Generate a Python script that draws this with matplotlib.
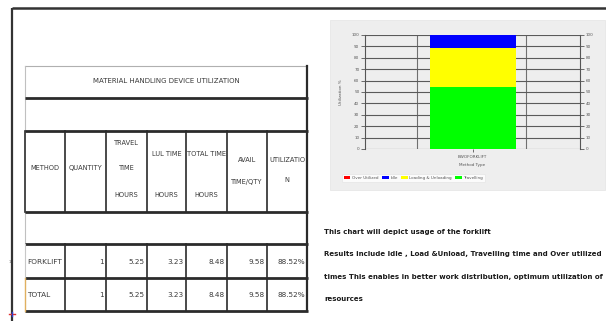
import matplotlib
matplotlib.use("Agg")
import matplotlib.pyplot as plt
from matplotlib.patches import Rectangle

# ---------------- data ----------------
table_title = "MATERIAL HANDLING DEVICE UTILIZATION"
header_lines = [["METHOD"], ["QUANTITY"], ["TRAVEL", "TIME", "HOURS"],
                ["LUL TIME", "HOURS"], ["TOTAL TIME", "HOURS"],
                ["AVAIL", "TIME/QTY"], ["UTILIZATIO", "N"]]
row_names = ["FORKLIFT", "TOTAL"]
quantity = ["1", "1"]
travel_time = ["5.25", "5.25"]
lul_time = ["3.23", "3.23"]
total_time = ["8.48", "8.48"]
avail_time = ["9.58", "9.58"]
utilization = ["88.52%", "88.52%"]

categories = ["BWOFORKLIFT"]
over_utilized = [0.0]
idle = [11.48]
loading_unloading = [33.72]
travelling = [54.80]
y_ticks = list(range(0, 101, 10))

paragraph = ["This chart will depict usage of the forklift",
             "Results include Idle , Load &Unload, Travelling time and Over utilized",
             "times This enables in better work distribution, optimum utilization of",
             "resources"]

W, H = 606, 321
fig = plt.figure(figsize=(W / 100, H / 100), dpi=100)
fig.patch.set_facecolor("white")

ax0 = fig.add_axes([0, 0, 1, 1])
ax0.set_xlim(0, W)
ax0.set_ylim(H, 0)
ax0.axis("off")

FAM = ["DejaVu Sans"]
tcol = "#3a3a3a"
dark = "#2b2b2b"

# outer frame lines
ax0.plot([12, W], [8, 8], color="#333333", lw=1.8, solid_capstyle="butt")
ax0.plot([12, 12], [8, H], color="#333333", lw=1.6, solid_capstyle="butt")
ax0.plot([9, 15], [314, 314], color="#e03030", lw=1.0)
ax0.plot([12, 12], [312, 316], color="#3040d0", lw=1.0)
ax0.text(10, 262, "1", fontsize=3, color="#666666", ha="center", va="center")

# table geometry (layout)
xs = [25, 65, 106, 147, 186, 227, 267, 307]
L, R = xs[0], xs[-1]
ax0.plot([L, R], [66, 66], color="#b0b0b0", lw=0.8)
ax0.plot([L, L], [66, 131], color="#c0c0c0", lw=0.8)
ax0.plot([L, L], [212, 244], color="#c0c0c0", lw=0.8)
ax0.plot([R, R], [66, 311], color=dark, lw=1.6)
for yy in [98, 131, 212, 244, 278, 311]:
    ax0.plot([L, R + 1], [yy, yy], color=dark, lw=2.0, solid_capstyle="butt")
for x in xs[:-1]:
    if x == L:
        ax0.plot([x, x], [131, 212], color=dark, lw=1.2)
        ax0.plot([x, x], [244, 278], color="#c8c8c8", lw=0.8)
        ax0.plot([x, x], [278, 311], color="#e0b060", lw=1.0)
    else:
        ax0.plot([x, x], [131, 212], color=dark, lw=1.2)
        ax0.plot([x, x], [244, 311], color=dark, lw=1.2)

ax0.text((L + R) / 2, 81, table_title, fontsize=5.0, family=FAM,
         color=tcol, ha="center", va="center")

header_y = [[168], [168], [143, 168, 195], [154, 195], [154, 195],
            [160, 182], [160, 180]]
for i, lines in enumerate(header_lines):
    cx = (xs[i] + xs[i + 1]) / 2
    for txt, yy in zip(lines, header_y[i]):
        ax0.text(cx, yy, txt, fontsize=4.8, family=FAM, color=tcol,
                 ha="center", va="center")

row_y = [262, 295]
cols = [quantity, travel_time, lul_time, total_time, avail_time, utilization]
for r, name in enumerate(row_names):
    ax0.text(L + 2, row_y[r], name, fontsize=5.3, family=FAM,
             color=tcol, ha="left", va="center")
    for c, col in enumerate(cols):
        ax0.text(xs[c + 2] - 2, row_y[r], col[r], fontsize=5.2, family=FAM,
                 color=tcol, ha="right", va="center")

para_y = [232, 254, 277, 299]
for txt, yy in zip(paragraph, para_y):
    ax0.text(324, yy, txt, fontsize=5.0, family=FAM,
             fontweight="bold", color="#1a1a1a", ha="left", va="center")

ax0.add_patch(Rectangle((330, 20), 275, 170, facecolor="#eeeeee",
                        edgecolor="#e4e4e4", lw=0.5, zorder=0))

# ---------------- chart ----------------
ax = fig.add_axes([365 / W, 1 - 149 / H, 215 / W, 114 / H])
ax.set_facecolor("none")
xpos = list(range(len(categories)))
bw = 0.8
b1 = travelling
b2 = [a + b for a, b in zip(b1, loading_unloading)]
b3 = [a + b for a, b in zip(b2, idle)]
ax.bar(xpos, travelling, width=bw, color="#00ff00", zorder=3, label="Travelling")
ax.bar(xpos, loading_unloading, width=bw, bottom=b1, color="#ffff00", zorder=3,
       label="Loading & Unloading")
ax.bar(xpos, idle, width=bw, bottom=b2, color="#0000ff", zorder=3, label="Idle")
ax.bar(xpos, over_utilized, width=bw, bottom=b3, color="#ff0000", zorder=3,
       label="Over Utilized")
ax.set_xlim(-1, 1)
ax.set_ylim(0, 100)
ax.set_yticks(y_ticks)
ax.set_yticklabels([str(v) for v in y_ticks])
ax.yaxis.grid(True, color="#5a5a5a", lw=0.8, zorder=1)
for xv in [-0.52, 0.5]:
    ax.axvline(xv, color="#707070", lw=0.8, zorder=1)
ax.set_xticks(xpos)
ax.set_xticklabels(categories)
ax.tick_params(axis="y", labelsize=3, length=3, width=0.6, colors="#555555",
               right=True, labelright=True, pad=1)
ax.tick_params(axis="x", labelsize=3, length=2, width=0.6, colors="#555555", pad=2)
for s in ["top", "bottom"]:
    ax.spines[s].set_visible(False)
for s in ["left", "right"]:
    ax.spines[s].set_color("#555555")
    ax.spines[s].set_linewidth(0.8)
ax.set_ylabel("Utilization %", fontsize=3, color="#555555", labelpad=6)
ax.set_xlabel("Method Type", fontsize=3, color="#555555", labelpad=3)

handles, labels = ax.get_legend_handles_labels()
order = [3, 2, 1, 0]
leg = ax.legend([handles[i] for i in order], [labels[i] for i in order],
                loc="center left", bbox_to_anchor=((342 - 365) / 215, -(178 - 149) / 114),
                ncol=4, fontsize=3, frameon=True, handlelength=1.6, handleheight=0.9,
                columnspacing=0.8, handletextpad=0.4, borderpad=0.4, borderaxespad=0)
leg.get_frame().set_facecolor("white")
leg.get_frame().set_edgecolor("#dddddd")
leg.get_frame().set_linewidth(0.4)
for t in leg.get_texts():
    t.set_color("#555555")

fig.savefig("out.png", dpi=100, facecolor="white")
